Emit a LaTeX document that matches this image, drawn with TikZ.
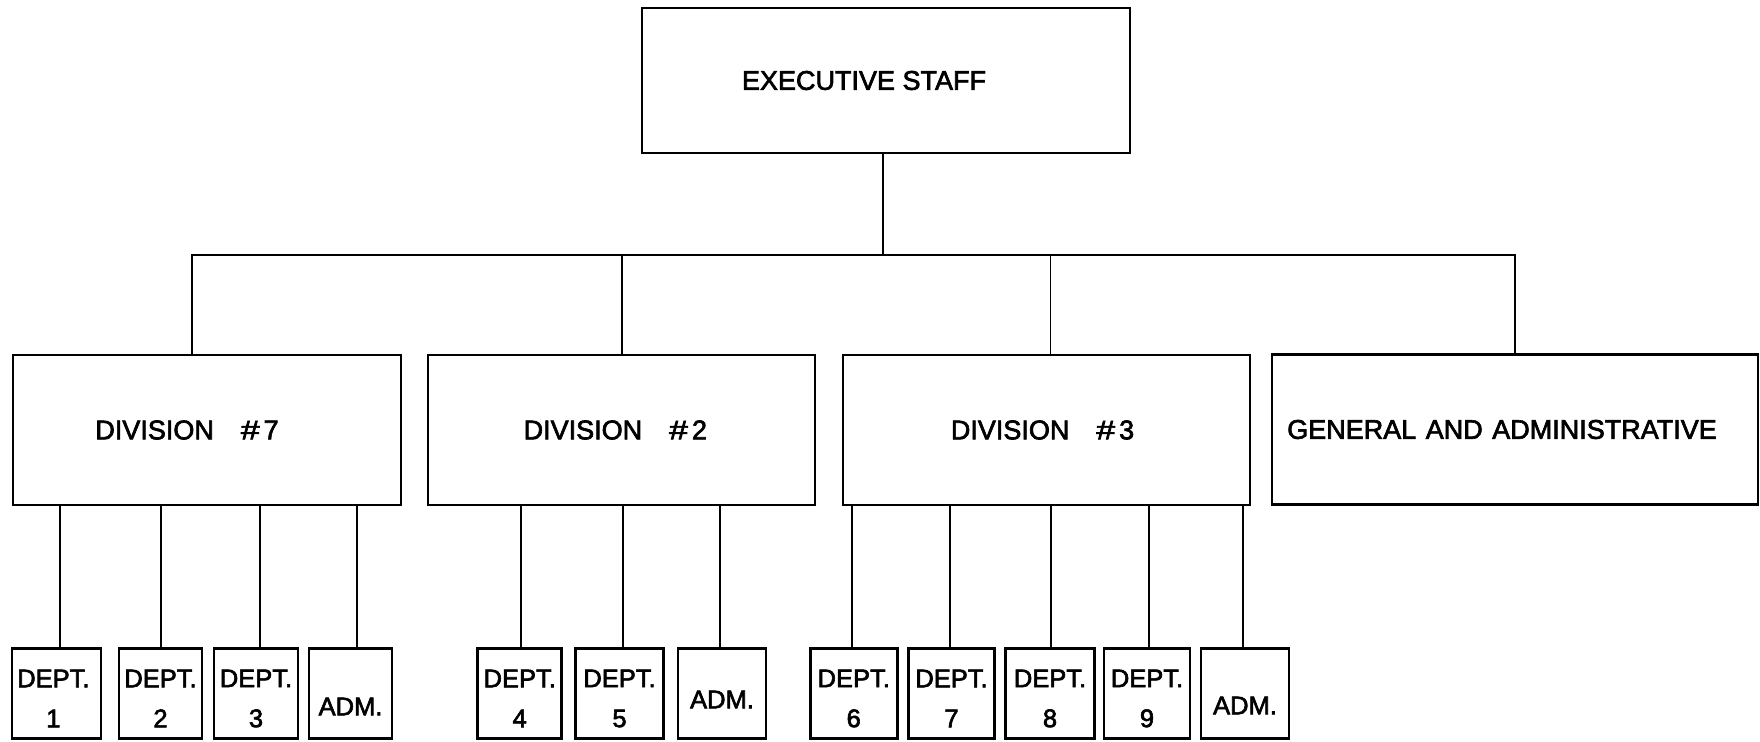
\documentclass[tikz,border=0pt]{standalone}
\usepackage{fontspec}
\setmainfont{Liberation Sans}
\newfontfamily\lettering{Liberation Sans}[FakeBold=2.4]
\begin{document}
\begin{tikzpicture}[x=1pt,y=-1pt,
  box/.style={draw, line width=2.6pt, inner sep=0pt},
  bigbox/.style={box, minimum height=150pt},
  bigtxt/.style={font=\lettering\fontsize{27}{32}\selectfont, inner sep=0pt},
  deptbox/.style={box, minimum height=90pt},
  depttxt/.style={font=\lettering\fontsize{25.5}{40}\selectfont, align=center, inner sep=0pt},
  conn/.style={line width=1.6pt}]
\useasboundingbox (0,0) rectangle (1760,741);

% top
\node[box, minimum width=488pt, minimum height=145pt,
      label={[bigtxt, xshift=-22pt]center:EXECUTIVE STAFF}] (exec) at (886,80.5) {};

% divisions
\node[bigbox, minimum width=388pt,
      label={[bigtxt, xshift=-20pt]center:DIVISION\hspace{27pt}\scalebox{1.25}[1]{\#}\hspace{4pt}7}] (div7) at (207,430) {};
\node[bigbox, minimum width=387pt,
      label={[bigtxt, xshift=-6pt]center:DIVISION\hspace{27pt}\scalebox{1.25}[1]{\#}\hspace{4pt}2}] (div2) at (621.3,430) {};
\node[bigbox, minimum width=407pt,
      label={[bigtxt, xshift=-4pt]center:DIVISION\hspace{27pt}\scalebox{1.25}[1]{\#}\hspace{4pt}3}] (div3) at (1046.5,430) {};
\node[bigbox, minimum width=486pt,
      label={[bigtxt, xshift=-13pt]center:GENERAL\hspace{2pt} AND\hspace{2pt} ADMINISTRATIVE}] (gna) at (1515,429.5) {};

% departments
\node[deptbox, minimum width=89pt, label={[depttxt, yshift=-5pt, xshift=-3pt]center:{DEPT.\\1}}] (d1) at (56.4,693.5) {};
\node[deptbox, minimum width=83pt, label={[depttxt, yshift=-5pt]center:{DEPT.\\2}}] (d2) at (160.5,693.5) {};
\node[deptbox, minimum width=84pt, label={[depttxt, yshift=-5pt]center:{DEPT.\\3}}] (d3) at (256,693.5) {};
\node[deptbox, minimum width=83pt, label={[depttxt, yshift=-13pt]center:ADM.}] (a7) at (350.5,693.5) {};

\node[deptbox, minimum width=84pt, label={[depttxt, yshift=-5pt]center:{DEPT.\\4}}] (d4) at (519.7,693.5) {};
\node[deptbox, minimum width=87.6pt, label={[depttxt, yshift=-5pt]center:{DEPT.\\5}}] (d5) at (619.5,693.5) {};
\node[deptbox, minimum width=88pt, label={[depttxt, yshift=-6pt]center:ADM.}] (a2) at (722,693.5) {};

\node[deptbox, minimum width=87pt, label={[depttxt, yshift=-5pt]center:{DEPT.\\6}}] (d6) at (853.7,693.5) {};
\node[deptbox, minimum width=85.6pt, label={[depttxt, yshift=-5pt]center:{DEPT.\\7}}] (d7) at (951.5,693.5) {};
\node[deptbox, minimum width=88.6pt, label={[depttxt, yshift=-5pt]center:{DEPT.\\8}}] (d8) at (1050,693.5) {};
\node[deptbox, minimum width=86pt, label={[depttxt, yshift=-5pt]center:{DEPT.\\9}}] (d9) at (1147,693.5) {};
\node[deptbox, minimum width=88pt, label={[depttxt, yshift=-12pt]center:ADM.}] (a3) at (1245,693.5) {};

% connectors: top level
\coordinate (bus) at (883,255);
\draw[conn] ([xshift=-3pt]exec.south) -- ([xshift=-3pt]exec.south |- bus);
\draw[conn] ([xshift=-15pt]div7.north) -- ([xshift=-15pt]div7.north |- bus) -- (gna.north |- bus) -- (gna.north);
\draw[conn] ([xshift=0.7pt]div2.north) -- ([xshift=0.7pt]div2.north |- bus);
\draw[conn] ([xshift=4pt]div3.north) -- ([xshift=4pt]div3.north |- bus);

% connectors: departments
\draw[conn] ([xshift=3.6pt]d1.north) -- ([xshift=3.6pt]d1.north |- div7.south);
\draw[conn] ([xshift=0.5pt]d2.north) -- ([xshift=0.5pt]d2.north |- div7.south);
\draw[conn] ([xshift=4pt]d3.north) -- ([xshift=4pt]d3.north |- div7.south);
\draw[conn] ([xshift=6.5pt]a7.north) -- ([xshift=6.5pt]a7.north |- div7.south);

\draw[conn] ([xshift=1.3pt]d4.north) -- ([xshift=1.3pt]d4.north |- div2.south);
\draw[conn] ([xshift=3.5pt]d5.north) -- ([xshift=3.5pt]d5.north |- div2.south);
\draw[conn] ([xshift=-2pt]a2.north) -- ([xshift=-2pt]a2.north |- div2.south);

\draw[conn] ([xshift=-1.7pt]d6.north) -- ([xshift=-1.7pt]d6.north |- div3.south);
\draw[conn] ([xshift=-1.5pt]d7.north) -- ([xshift=-1.5pt]d7.north |- div3.south);
\draw[conn] ([xshift=1pt]d8.north) -- ([xshift=1pt]d8.north |- div3.south);
\draw[conn] ([xshift=2pt]d9.north) -- ([xshift=2pt]d9.north |- div3.south);
\draw[conn] ([xshift=-2pt]a3.north) -- ([xshift=-2pt]a3.north |- div3.south);
\end{tikzpicture}
\end{document}
